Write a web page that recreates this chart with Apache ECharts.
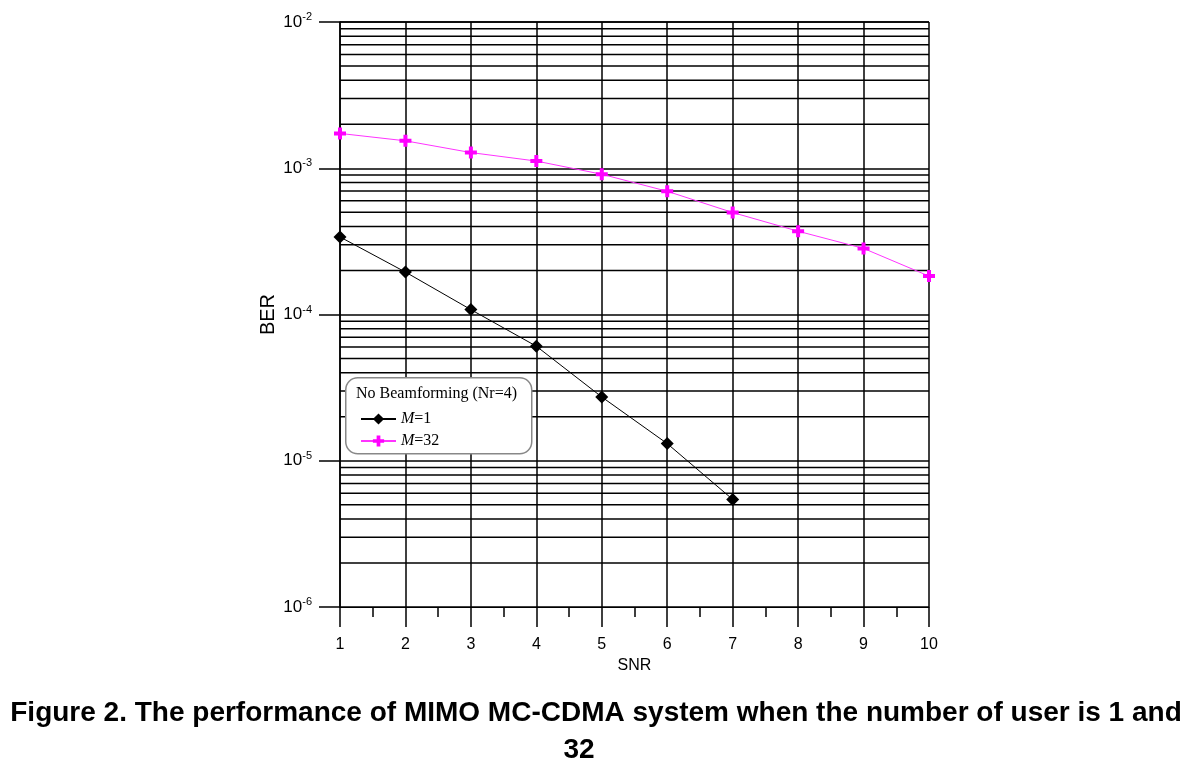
<!DOCTYPE html>
<html>
<head>
<meta charset="utf-8">
<script src="https://cdn.jsdelivr.net/npm/echarts@6/dist/echarts.min.js"></script>
<style>html,body{margin:0;padding:0;background:#fff}#c{width:1198px;height:770px}</style>
</head>
<body>
<div id="c"></div>
<script>
const snr = [1, 2, 3, 4, 5, 6, 7, 8, 9, 10];
const berM1 = [3.39e-4, 1.95e-4, 1.08e-4, 6.07e-5, 2.73e-5, 1.31e-5, 5.44e-6];
const berM32 = [1.73e-3, 1.54e-3, 1.28e-3, 1.12e-3, 9.1e-4, 6.96e-4, 4.98e-4, 3.71e-4, 2.83e-4, 1.83e-4];
const seriesNames = ['M=1', 'M=32'];
const legendTitle = 'No Beamforming (Nr=4)';
const xName = 'SNR';
const yName = 'BER';
const captionLine1 = 'Figure 2. The performance of MIMO MC-CDMA system when the number of user is 1 and';
const captionLine2 = '32';
const decades = [-6, -5, -4, -3];
const minorMultipliers = [2, 3, 4, 5, 6, 7, 8, 9];

const minorGrid = [];
decades.forEach(d => minorMultipliers.forEach(m => minorGrid.push([snr[0], m * Math.pow(10, d)])));

const sans = 'Liberation Sans, Arial, sans-serif';
const serif = 'Liberation Serif, Times New Roman, serif';

const chart = echarts.init(document.getElementById('c'), null, { renderer: 'canvas' });
chart.setOption({
  animation: false,
  backgroundColor: '#fff',
  grid: { left: 340, right: 269, top: 22, bottom: 163, containLabel: false },
  xAxis: {
    type: 'value', min: 1, max: 10, interval: 1,
    name: xName, nameLocation: 'middle', nameGap: 48,
    nameTextStyle: { fontFamily: sans, fontSize: 16, color: '#000' },
    axisLine: { show: true, onZero: false, lineStyle: { color: '#000', width: 1 } },
    axisTick: { show: true, inside: false, length: 20, lineStyle: { color: '#000', width: 1.5 } },
    minorTick: { show: true, splitNumber: 2, length: 10, lineStyle: { color: '#000', width: 1.5 } },
    axisLabel: { fontFamily: sans, fontSize: 16, color: '#000', margin: 30 },
    splitLine: { show: true, lineStyle: { color: '#000', width: 1.5 } }
  },
  yAxis: {
    type: 'log', logBase: 10, min: 1e-6, max: 1e-2,
    name: yName, nameLocation: 'middle', nameGap: 62, nameRotate: 90,
    nameTextStyle: { fontFamily: sans, fontSize: 20, color: '#000' },
    axisLine: { show: true, lineStyle: { color: '#000', width: 1.5 } },
    axisTick: { show: true, inside: false, length: 21, lineStyle: { color: '#000', width: 1.5 } },
    axisLabel: {
      margin: 28,
      formatter: function (v) {
        const e = Math.round(Math.log10(v));
        return '{b|10}{s|' + e + '}';
      },
      rich: {
        b: { fontFamily: sans, fontSize: 17, color: '#000' },
        s: { fontFamily: sans, fontSize: 11, color: '#000', padding: [0, 0, 10, 0] }
      }
    },
    splitLine: { show: true, lineStyle: { color: '#000', width: 1.5 } }
  },
  legend: {
    orient: 'vertical', left: 355, top: 406, itemGap: 6,
    itemWidth: 35, itemHeight: 14, z: 30,
    data: seriesNames,
    formatter: function (n) {
      const p = n.split('=');
      return '{i|' + p[0] + '}{n|=' + p[1] + '}';
    },
    textStyle: {
      rich: {
        i: { fontFamily: serif, fontStyle: 'italic', fontSize: 16, color: '#000' },
        n: { fontFamily: serif, fontSize: 16, color: '#000' }
      }
    }
  },
  graphic: [
    {
      type: 'rect', z: 20, left: 345, top: 377,
      shape: { width: 186, height: 76, r: 12 },
      style: { fill: '#fff', stroke: '#888', lineWidth: 1.5 }
    },
    {
      type: 'text', z: 25, left: 356, top: 386,
      style: { text: legendTitle, font: '16px ' + serif, fill: '#000' }
    },
    {
      type: 'text', z: 25, x: 596, y: 713,
      style: { text: captionLine1, font: 'bold 28px ' + sans, fill: '#000', textAlign: 'center', textVerticalAlign: 'middle' }
    },
    {
      type: 'text', z: 25, x: 579, y: 750,
      style: { text: captionLine2, font: 'bold 28px ' + sans, fill: '#000', textAlign: 'center', textVerticalAlign: 'middle' }
    }
  ],
  series: [
    {
      name: 'minorGrid', type: 'custom', silent: true, z: 1,
      data: minorGrid,
      encode: { x: 0, y: 1 },
      renderItem: function (params, api) {
        const v = api.value(1);
        const p0 = api.coord([snr[0], v]);
        const p1 = api.coord([snr[snr.length - 1], v]);
        return {
          type: 'line',
          shape: { x1: p0[0], y1: p0[1], x2: p1[0], y2: p1[1] },
          style: { stroke: '#000', lineWidth: 1.5 }
        };
      }
    },
    {
      name: seriesNames[0], type: 'line',
      data: berM1.map((v, i) => [snr[i], v]),
      symbol: 'diamond', symbolSize: 13,
      itemStyle: { color: '#000' },
      lineStyle: { color: '#000', width: 1 },
      z: 5
    },
    {
      name: seriesNames[1], type: 'line',
      data: berM32.map((v, i) => [snr[i], v]),
      symbol: 'path://M4,0h4v4h4v4h-4v4h-4v-4h-4v-4h4z', symbolSize: 12,
      itemStyle: { color: '#ff00ff' },
      lineStyle: { color: '#ff33ff', width: 1 },
      z: 5
    }
  ]
});
</script>
</body>
</html>
